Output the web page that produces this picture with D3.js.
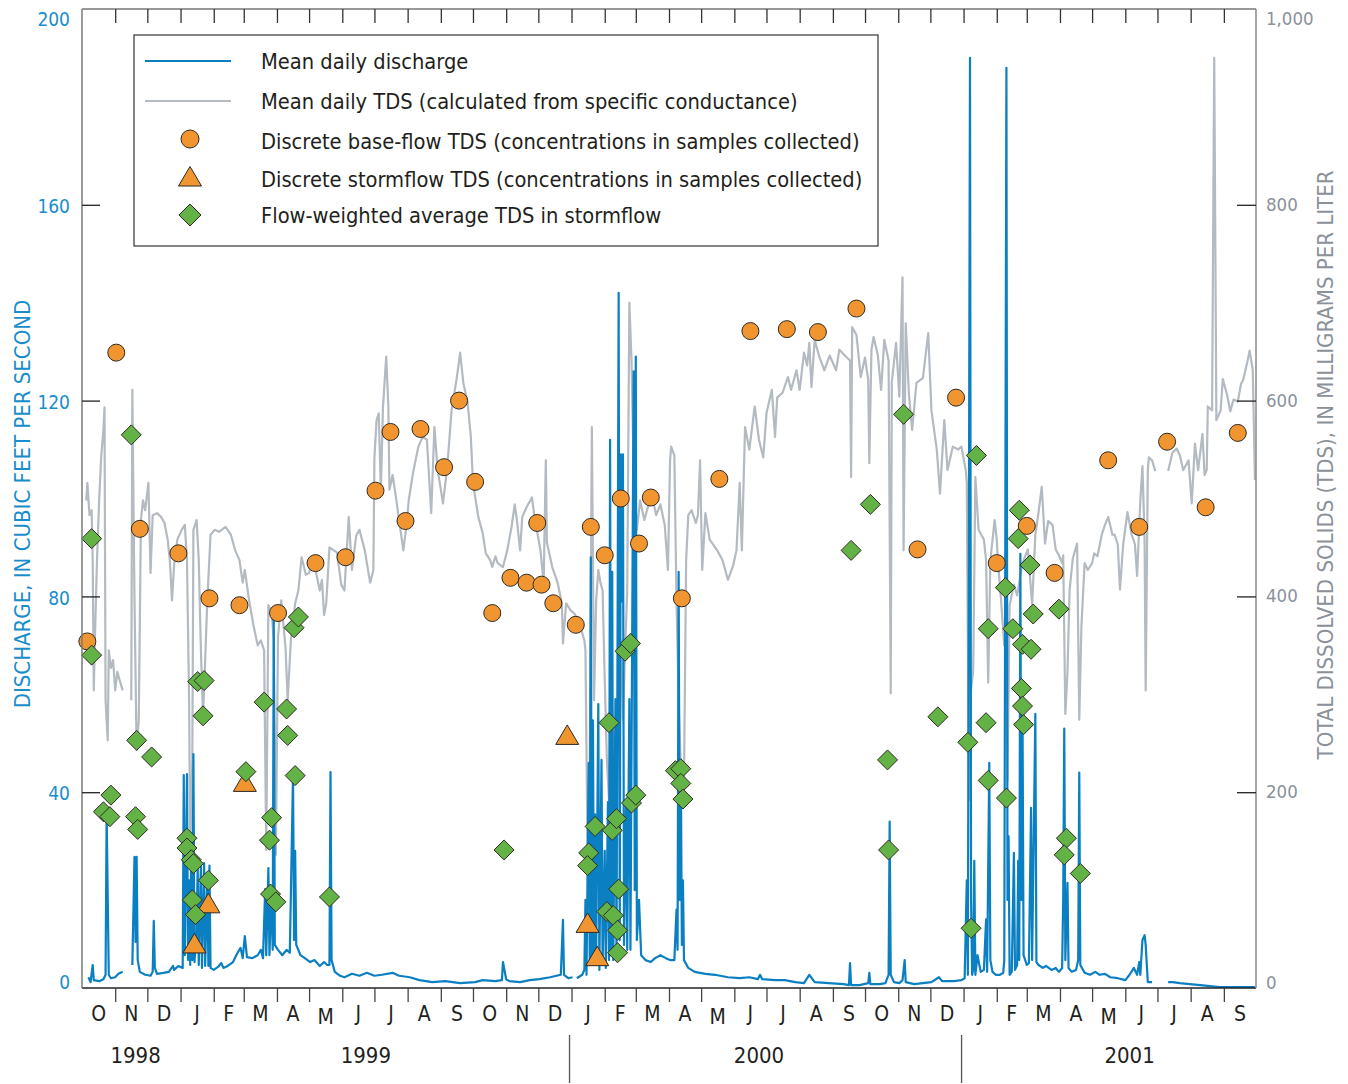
<!DOCTYPE html>
<html>
<head>
<meta charset="utf-8">
<script src="https://cdn.jsdelivr.net/npm/d3@7"></script>
<style>
  body { margin: 0; background: #fff; }
  svg text { font-family: "Liberation Sans Narrow", "DejaVu Sans Condensed", "Roboto Condensed", "Arial Narrow", sans-serif; }
</style>
</head>
<body>
<svg id="chart" width="1348" height="1084"></svg>
<script>
// ---- Data -------------------------------------------------------------

// Mean daily discharge, cubic feet per second (null = missing record)
const dischargeSeries = [
  ["1998-10-07",2.2],["1998-10-09",1.2],["1998-10-11",4.7],["1998-10-12",1.6],["1998-10-17",1.4],["1998-10-21",1.8],
  ["1998-10-23",2.7],["1998-10-24",35.5],["1998-10-26",2.7],["1998-10-28",2.0],["1998-11-01",2.2],["1998-11-04",2.9],
  ["1998-11-08",3.3],["1998-11-12",null],["1998-11-17",4.7],["1998-11-19",26.8],["1998-11-20",9.4],["1998-11-21",26.8],
  ["1998-11-22",5.7],["1998-11-24",3.3],["1998-11-29",2.7],["1998-12-04",2.5],["1998-12-06",3.3],["1998-12-07",13.7],
  ["1998-12-08",4.1],["1998-12-10",2.9],["1998-12-16",3.1],["1998-12-21",3.3],["1998-12-25",4.5],["1998-12-26",3.7],
  ["1998-12-30",4.5],["1999-01-03",4.1],["1999-01-04",43.5],["1999-01-05",6.7],["1999-01-07",43.7],["1999-01-08",5.7],
  ["1999-01-09",22],["1999-01-10",4.7],["1999-01-11",30],["1999-01-12",5.7],["1999-01-13",47.8],["1999-01-14",5.3],
  ["1999-01-16",11.8],["1999-01-17",25],["1999-01-18",4.7],["1999-01-20",25],["1999-01-21",4.1],["1999-01-23",25.5],
  ["1999-01-24",4.5],["1999-01-26",22],["1999-01-27",4.5],["1999-01-28",25],["1999-01-29",4.1],["1999-02-01",3.7],
  ["1999-02-05",4.3],["1999-02-08",5.1],["1999-02-10",4.1],["1999-02-14",4.5],["1999-02-19",5.3],["1999-02-22",6.7],
  ["1999-02-26",8.2],["1999-02-28",6.1],["1999-03-02",10.6],["1999-03-04",6.3],["1999-03-09",6.1],["1999-03-14",6.7],
  ["1999-03-17",7.8],["1999-03-19",6.1],["1999-03-21",20.2],["1999-03-22",6.7],["1999-03-24",24.5],["1999-03-25",6.7],
  ["1999-03-27",20],["1999-03-28",7.8],["1999-03-29",75.2],["1999-03-30",8.8],["1999-04-02",7.8],["1999-04-06",6.7],
  ["1999-04-10",7.8],["1999-04-13",7.2],["1999-04-16",43.5],["1999-04-17",9.8],["1999-04-18",28],["1999-04-19",8.8],
  ["1999-04-23",6.7],["1999-04-27",6.1],["1999-05-02",5.3],["1999-05-06",5.7],["1999-05-11",4.5],["1999-05-15",5.3],
  ["1999-05-18",4.7],["1999-05-20",4.7],["1999-05-21",44.1],["1999-05-22",5.7],["1999-05-25",3.3],["1999-05-30",2.5],
  ["1999-06-03",2.2],["1999-06-10",2.9],["1999-06-17",2.5],["1999-06-24",3.1],["1999-07-01",2.5],["1999-07-08",2.7],
  ["1999-07-18",3.1],["1999-07-24",2.5],["1999-08-03",2.2],["1999-08-12",1.6],["1999-08-24",1.2],["1999-09-05",1.4],
  ["1999-09-19",1.0],["1999-10-03",1.2],["1999-10-10",1.6],["1999-10-22",1.4],["1999-10-28",1.6],["1999-10-29",5.3],
  ["1999-11-01",1.8],["1999-11-04",1.4],["1999-11-14",1.2],["1999-11-23",1.6],["1999-12-02",1.8],["1999-12-12",2.2],
  ["1999-12-22",2.7],["1999-12-24",13.9],["1999-12-25",2.7],["1999-12-29",2.0],["2000-01-02",2.2],["2000-01-04",null],
  ["2000-01-06",2.0],["2000-01-11",2.7],["2000-01-13",3.7],["2000-01-14",18],["2000-01-15",2.7],["2000-01-17",46],
  ["2000-01-18",4.7],["2000-01-19",88],["2000-01-20",5.7],["2000-01-21",54.7],["2000-01-22",4.7],["2000-01-23",35.5],
  ["2000-01-24",5.7],["2000-01-26",58],["2000-01-27",3.7],["2000-01-29",46.6],["2000-01-30",4.7],["2000-02-01",28],
  ["2000-02-02",4.1],["2000-02-04",38],["2000-02-05",5.7],["2000-02-06",112],["2000-02-07",6.7],["2000-02-08",85],
  ["2000-02-09",5.7],["2000-02-11",59],["2000-02-12",6.7],["2000-02-14",142],["2000-02-15",9.8],["2000-02-16",109],
  ["2000-02-17",79],["2000-02-18",109],["2000-02-19",8.8],["2000-02-21",38],["2000-02-22",7.8],["2000-02-24",59],
  ["2000-02-25",7.8],["2000-02-28",126],["2000-02-29",20],["2000-03-01",129],["2000-03-02",9.8],["2000-03-04",18],
  ["2000-03-06",6.7],["2000-03-10",5.7],["2000-03-15",5.3],["2000-03-19",6.1],["2000-03-24",6.7],["2000-03-29",6.1],
  ["2000-04-02",5.7],["2000-04-06",5.7],["2000-04-08",16],["2000-04-09",7.8],["2000-04-10",85],["2000-04-11",18],
  ["2000-04-12",46.6],["2000-04-13",8.8],["2000-04-14",22],["2000-04-15",5.7],["2000-04-19",4.1],["2000-04-25",3.3],
  ["2000-05-05",2.9],["2000-05-14",2.7],["2000-05-26",2.2],["2000-06-06",2.0],["2000-06-15",2.2],["2000-06-23",1.8],
  ["2000-06-25",2.7],["2000-06-27",1.8],["2000-07-09",1.6],["2000-07-18",1.6],["2000-07-28",1.2],["2000-08-05",1.0],
  ["2000-08-10",2.7],["2000-08-15",1.2],["2000-08-28",1.0],["2000-09-11",0.8],["2000-09-16",0.6],["2000-09-17",5.1],
  ["2000-09-18",0.6],["2000-09-26",0.6],["2000-10-04",1.0],["2000-10-05",3.1],["2000-10-06",0.8],["2000-10-15",0.8],
  ["2000-10-20",1.0],["2000-10-23",2.7],["2000-10-24",34],["2000-10-25",2.7],["2000-10-28",1.2],["2000-11-02",1.0],
  ["2000-11-05",1.6],["2000-11-07",5.7],["2000-11-08",1.2],["2000-11-16",0.8],["2000-11-24",1.0],["2000-12-02",1.2],
  ["2000-12-09",2.2],["2000-12-12",1.4],["2000-12-23",1.4],["2000-12-30",1.6],["2001-01-02",2.0],["2001-01-04",22],
  ["2001-01-05",2.7],["2001-01-07",190],["2001-01-08",18],["2001-01-09",2.7],["2001-01-10",3.7],["2001-01-11",26],
  ["2001-01-12",2.7],["2001-01-14",6.7],["2001-01-17",3.3],["2001-01-20",3.7],["2001-01-22",14],["2001-01-23",3.3],
  ["2001-01-25",46],["2001-01-26",5.7],["2001-01-28",3.3],["2001-01-31",2.7],["2001-02-04",2.7],["2001-02-07",3.1],
  ["2001-02-08",5.7],["2001-02-10",188],["2001-02-11",18],["2001-02-12",31],["2001-02-13",2.7],["2001-02-15",3.3],
  ["2001-02-17",27.6],["2001-02-18",3.7],["2001-02-20",4.7],["2001-02-21",26],["2001-02-22",5.7],["2001-02-23",88.7],
  ["2001-02-24",18],["2001-02-25",57],["2001-02-26",6.7],["2001-03-01",4.7],["2001-03-03",5.1],["2001-03-05",36.8],
  ["2001-03-06",5.7],["2001-03-09",56],["2001-03-10",5.3],["2001-03-12",4.7],["2001-03-16",4.1],["2001-03-19",4.5],
  ["2001-03-24",3.7],["2001-03-28",4.1],["2001-03-31",3.3],["2001-04-03",4.1],["2001-04-04",18],["2001-04-05",53],
  ["2001-04-06",5.7],["2001-04-08",21.5],["2001-04-09",4.1],["2001-04-12",3.3],["2001-04-16",3.7],["2001-04-18",5.7],
  ["2001-04-19",44],["2001-04-20",4.7],["2001-04-24",3.1],["2001-04-29",2.7],["2001-05-04",3.3],["2001-05-08",2.7],
  ["2001-05-13",2.9],["2001-05-18",2.2],["2001-05-25",2.0],["2001-06-01",1.6],["2001-06-05",2.7],["2001-06-09",4.1],
  ["2001-06-12",2.7],["2001-06-14",5.3],["2001-06-15",2.7],["2001-06-17",9.8],["2001-06-19",10.8],["2001-06-20",8.8],
  ["2001-06-22",1.2],["2001-06-26",1.2],["2001-07-03",null],["2001-07-11",1.2],["2001-07-15",1.2],["2001-07-22",1.0],
  ["2001-07-31",0.8],["2001-08-10",0.6],["2001-08-19",0.4],["2001-08-28",0.2],["2001-09-11",0.2],["2001-09-30",0.2]
];

// Mean daily TDS from specific conductance, mg/L (null = missing record)
const tdsSeries = [
  ["1998-10-05",498],["1998-10-06",516],["1998-10-08",483],["1998-10-10",488],["1998-10-11",437],["1998-10-12",304],
  ["1998-10-13",355],["1998-10-15",437],["1998-10-17",498],["1998-10-19",544],["1998-10-21",570],["1998-10-22",593],
  ["1998-10-23",294],["1998-10-25",253],["1998-10-26",345],["1998-10-28",327],["1998-10-30",335],["1998-11-01",304],
  ["1998-11-03",323],["1998-11-05",315],["1998-11-08",304],["1998-11-12",null],["1998-11-16",294],["1998-11-17",611],
  ["1998-11-19",396],["1998-11-21",243],["1998-11-23",274],["1998-11-25",478],["1998-11-27",498],["1998-11-29",488],
  ["1998-12-02",516],["1998-12-04",424],["1998-12-06",483],["1998-12-10",485],["1998-12-14",481],["1998-12-17",475],
  ["1998-12-20",458],["1998-12-22",437],["1998-12-24",396],["1998-12-26",432],["1998-12-29",458],["1999-01-02",468],
  ["1999-01-05",473],["1999-01-07",437],["1999-01-09",294],["1999-01-10",141],["1999-01-12",233],["1999-01-13",468],
  ["1999-01-16",478],["1999-01-18",437],["1999-01-20",345],["1999-01-22",278],["1999-01-24",335],["1999-01-26",396],
  ["1999-01-29",463],["1999-02-02",468],["1999-02-06",466],["1999-02-12",471],["1999-02-17",463],["1999-02-21",447],
  ["1999-02-25",437],["1999-02-28",414],["1999-03-02",427],["1999-03-06",396],["1999-03-10",371],["1999-03-14",350],
  ["1999-03-17",355],["1999-03-20",345],["1999-03-22",141],["1999-03-24",391],["1999-03-27",385],["1999-03-29",355],
  ["1999-03-31",136],["1999-04-02",359],["1999-04-05",396],["1999-04-09",348],["1999-04-11",294],["1999-04-14",355],
  ["1999-04-18",393],["1999-04-21",406],["1999-04-24",440],["1999-04-28",422],["1999-05-01",424],["1999-05-04",437],
  ["1999-05-07",427],["1999-05-11",406],["1999-05-13",417],["1999-05-15",381],["1999-05-17",393],["1999-05-20",450],
  ["1999-05-24",447],["1999-05-27",445],["1999-05-31",412],["1999-06-03",406],["1999-06-07",481],["1999-06-10",427],
  ["1999-06-14",462],["1999-06-17",468],["1999-06-22",447],["1999-06-27",414],["1999-06-30",427],["1999-07-01",542],
  ["1999-07-03",580],["1999-07-05",587],["1999-07-07",509],["1999-07-09",594],["1999-07-12",645],["1999-07-14",594],
  ["1999-07-15",509],["1999-07-18",524],["1999-07-21",502],["1999-07-24",478],["1999-07-28",447],["1999-07-31",473],
  ["1999-08-02",498],["1999-08-06",526],["1999-08-11",553],["1999-08-15",563],["1999-08-19",560],["1999-08-23",485],
  ["1999-08-26",573],["1999-08-29",529],["1999-08-31",516],["1999-09-03",495],["1999-09-07",532],["1999-09-11",590],
  ["1999-09-16",624],["1999-09-19",649],["1999-09-22",618],["1999-09-26",598],["1999-09-29",563],["1999-10-01",516],
  ["1999-10-06",481],["1999-10-10",465],["1999-10-13",444],["1999-10-17",437],["1999-10-19",430],["1999-10-22",441],
  ["1999-10-24",434],["1999-10-29",430],["1999-11-02",447],["1999-11-06",471],["1999-11-09",494],["1999-11-11",478],
  ["1999-11-14",447],["1999-11-16",481],["1999-11-20",491],["1999-11-25",501],["1999-11-28",478],["1999-12-03",447],
  ["1999-12-06",414],["1999-12-08",539],["1999-12-09",455],["1999-12-14",430],["1999-12-19",414],["1999-12-23",393],
  ["1999-12-24",352],["1999-12-27",393],["1999-12-31",386],["2000-01-04",382],["2000-01-09",370],["2000-01-13",355],
  ["2000-01-14",345],["2000-01-16",131],["2000-01-18",233],["2000-01-20",573],["2000-01-22",294],["2000-01-24",396],
  ["2000-01-26",427],["2000-01-28",414],["2000-01-30",406],["2000-02-01",315],["2000-02-03",233],["2000-02-05",192],
  ["2000-02-07",304],["2000-02-09",253],["2000-02-11",172],["2000-02-13",233],["2000-02-15",315],["2000-02-16",355],
  ["2000-02-18",274],["2000-02-20",345],["2000-02-22",406],["2000-02-24",700],["2000-02-26",641],["2000-02-28",529],
  ["2000-03-02",468],["2000-03-05",498],["2000-03-09",478],["2000-03-13",494],["2000-03-16",504],["2000-03-20",483],
  ["2000-03-24",494],["2000-03-28",473],["2000-03-31",427],["2000-04-02",539],["2000-04-03",553],["2000-04-06",544],
  ["2000-04-08",396],["2000-04-10",294],["2000-04-13",192],["2000-04-15",212],["2000-04-17",437],["2000-04-19",483],
  ["2000-04-22",488],["2000-04-26",475],["2000-04-28",483],["2000-04-30",539],["2000-05-02",427],["2000-05-05",485],
  ["2000-05-09",458],["2000-05-16",447],["2000-05-21",437],["2000-05-26",417],["2000-05-31",432],["2000-06-03",447],
  ["2000-06-06",516],["2000-06-08",447],["2000-06-11",573],["2000-06-15",550],["2000-06-20",594],["2000-06-24",560],
  ["2000-06-28",542],["2000-07-01",587],["2000-07-06",611],["2000-07-09",563],["2000-07-11",603],["2000-07-16",608],
  ["2000-07-21",624],["2000-07-24",611],["2000-07-29",631],["2000-08-01",611],["2000-08-05",649],["2000-08-08",636],
  ["2000-08-10",659],["2000-08-12",614],["2000-08-15",662],["2000-08-19",646],["2000-08-24",631],["2000-08-29",646],
  ["2000-09-04",631],["2000-09-07",652],["2000-09-14",644],["2000-09-17",641],["2000-09-18",522],["2000-09-19",675],
  ["2000-09-23",667],["2000-09-27",624],["2000-10-01",644],["2000-10-04",621],["2000-10-05",536],["2000-10-07",652],
  ["2000-10-09",665],["2000-10-13",646],["2000-10-16",611],["2000-10-19",662],["2000-10-23",641],["2000-10-25",301],
  ["2000-10-26",619],["2000-10-30",659],["2000-11-02",604],["2000-11-05",726],["2000-11-06",447],["2000-11-08",679],
  ["2000-11-11",606],["2000-11-14",570],["2000-11-18",618],["2000-11-24",623],["2000-11-29",669],["2000-12-02",590],
  ["2000-12-07",550],["2000-12-10",505],["2000-12-14",580],["2000-12-17",529],["2000-12-22",553],["2000-12-27",550],
  ["2000-12-30",553],["2001-01-03",529],["2001-01-04",516],["2001-01-06",192],["2001-01-08",304],["2001-01-10",325],
  ["2001-01-12",522],["2001-01-15",468],["2001-01-20",458],["2001-01-22",437],["2001-01-24",312],["2001-01-26",437],
  ["2001-01-30",478],["2001-02-01",458],["2001-02-02",437],["2001-02-05",396],["2001-02-08",350],["2001-02-10",396],
  ["2001-02-11",212],["2001-02-13",391],["2001-02-17",412],["2001-02-20",401],["2001-02-25",434],["2001-03-02",448],
  ["2001-03-06",392],["2001-03-09",463],["2001-03-12",486],["2001-03-15",512],["2001-03-18",454],["2001-03-21",477],
  ["2001-03-25",473],["2001-03-28",448],["2001-03-31",442],["2001-04-03",434],["2001-04-04",442],["2001-04-06",280],
  ["2001-04-08",322],["2001-04-10",407],["2001-04-13",439],["2001-04-17",454],["2001-04-19",274],["2001-04-21",369],
  ["2001-04-24",434],["2001-04-27",427],["2001-05-01",434],["2001-05-03",444],["2001-05-06",441],["2001-05-10",463],
  ["2001-05-13",473],["2001-05-16",481],["2001-05-20",463],["2001-05-22",463],["2001-05-25",453],["2001-05-27",407],
  ["2001-05-30",453],["2001-06-03",486],["2001-06-07",463],["2001-06-10",453],["2001-06-12",421],["2001-06-15",498],
  ["2001-06-17",533],["2001-06-19",457],["2001-06-20",304],["2001-06-22",529],["2001-06-23",542],["2001-06-26",539],
  ["2001-06-29",528],["2001-07-05",null],["2001-07-11",528],["2001-07-15",547],["2001-07-19",551],["2001-07-22",544],
  ["2001-07-25",529],["2001-07-30",539],["2001-08-02",495],["2001-08-05",556],["2001-08-08",529],["2001-08-12",566],
  ["2001-08-14",524],["2001-08-16",529],["2001-08-17",594],["2001-08-21",590],["2001-08-23",950],["2001-08-25",580],
  ["2001-08-29",590],["2001-08-31",622],["2001-09-04",606],["2001-09-07",589],["2001-09-10",601],["2001-09-14",599],
  ["2001-09-17",617],["2001-09-19",621],["2001-09-23",640],["2001-09-25",651],["2001-09-28",631],["2001-09-30",519]
];

// Discrete base-flow samples, TDS mg/L
const baseflowSamples = [
  ["1998-10-06",354],["1998-11-02",649],["1998-11-24",469],["1998-12-30",444],["1999-01-28",398],["1999-02-25",391],
  ["1999-04-02",383],["1999-05-07",434],["1999-06-04",440],["1999-07-02",508],["1999-07-16",568],["1999-07-30",477],
  ["1999-08-13",571],["1999-09-04",532],["1999-09-18",600],["1999-10-03",517],["1999-10-19",383],["1999-11-05",419],
  ["1999-11-20",414],["1999-11-30",475],["1999-12-04",412],["1999-12-15",393],["2000-01-05",371],["2000-01-19",471],
  ["2000-02-01",442],["2000-02-16",500],["2000-03-04",454],["2000-03-15",501],["2000-04-13",398],["2000-05-18",520],
  ["2000-06-16",671],["2000-07-20",673],["2000-08-18",670],["2000-09-23",694],["2000-11-19",448],["2000-12-25",603],
  ["2001-02-01",434],["2001-03-01",472],["2001-03-27",424],["2001-05-16",539],["2001-06-14",471],["2001-07-10",558],
  ["2001-08-15",491],["2001-09-14",567]
];

// Discrete stormflow samples, TDS mg/L
const stormSamples = [
  ["1999-01-14",45],["1999-01-27",86],["1999-03-02",210],["1999-12-28",258],["2000-01-16",66],["2000-01-25",32]
];

// Flow-weighted average TDS in stormflow, mg/L
const flowWeighted = [
  ["1998-10-10",459],["1998-10-10",340],["1998-10-21",180],["1998-10-27",175],["1998-10-28",197],["1998-11-16",565],
  ["1998-11-20",175],["1998-11-22",162],["1998-11-21",253],["1998-12-05",236],["1999-01-07",153],["1999-01-07",143],
  ["1999-01-11",131],["1999-01-13",127],["1999-01-12",90],["1999-01-15",75],["1999-01-27",110],["1999-01-17",313],
  ["1999-01-23",314],["1999-01-22",278],["1999-03-03",221],["1999-03-20",292],["1999-03-27",174],["1999-03-25",151],
  ["1999-03-26",96],["1999-03-31",88],["1999-04-10",285],["1999-04-11",258],["1999-04-18",217],["1999-04-17",368],
  ["1999-04-21",379],["1999-05-20",93],["1999-10-30",141],["2000-01-23",165],["2000-01-17",138],["2000-01-16",125],
  ["2000-02-05",271],["2000-02-08",161],["2000-02-12",173],["2000-02-14",101],["2000-02-03",78],["2000-02-09",74],
  ["2000-02-13",59],["2000-02-13",36],["2000-02-20",344],["2000-02-25",352],["2000-02-26",189],["2000-03-01",197],
  ["2000-04-07",222],["2000-04-12",224],["2000-04-12",209],["2000-04-14",193],["2000-09-18",447],["2000-10-06",494],
  ["2000-11-06",586],["2000-10-22",233],["2000-10-23",141],["2000-12-08",277],["2001-01-05",251],["2001-01-08",61],
  ["2001-01-13",544],["2001-01-22",271],["2001-01-24",212],["2001-01-24",367],["2001-02-10",194],["2001-02-09",409],
  ["2001-02-16",367],["2001-02-22",488],["2001-02-21",459],["2001-03-04",432],["2001-03-07",382],["2001-02-25",351],
  ["2001-03-05",346],["2001-02-24",306],["2001-02-25",288],["2001-02-26",269],["2001-03-31",387],["2001-04-07",153],
  ["2001-04-05",136],["2001-04-20",117]
];

// Axis ticks and labels
const dischargeTicks = [0, 40, 80, 120, 160, 200];
const tdsTicks = [0, 200, 400, 600, 800, 1000];
const yearLabels = ["1998", "1999", "2000", "2001"];
const yearLabelDates = ["1998-11-20", "1999-06-23", "2000-06-24", "2001-06-05"];
const legendLabels = [
  "Mean daily discharge",
  "Mean daily TDS (calculated from specific conductance)",
  "Discrete base-flow TDS (concentrations in samples collected)",
  "Discrete stormflow TDS (concentrations in samples collected)",
  "Flow-weighted average TDS in stormflow"
];

// ---- Drawing ------------------------------------------------------------

const parse = d3.utcParse("%Y-%m-%d");
const C = {
  blue: "#0a7fc2", blueText: "#1a8dcc", gray: "#b3bac2", grayText: "#8b9199",
  orange: "#f0952f", green: "#62b246", stroke: "#2f2a25", ink: "#231f20"
};

const svg = d3.select("#chart");
const L = 82, R = 1256, T = 9, B = 988;
const start = parse("1998-10-01"), end = parse("2001-10-01");

const x = d3.scaleUtc().domain([start, end]).range([L, R]);
const yQ = d3.scaleLinear().domain([0, 200]).range([B, T]);
const yT = d3.scaleLinear().domain([0, 1000]).range([B, T]);

// Lines
const lineOf = (yScale) => d3.line()
  .defined(d => d[1] !== null)
  .x(d => x(parse(d[0])))
  .y(d => yScale(d[1]));

svg.append("path").datum(tdsSeries)
  .attr("d", lineOf(yT)).attr("fill", "none")
  .attr("stroke", C.gray).attr("stroke-width", 2.2).attr("stroke-linejoin", "round");

svg.append("path").datum(dischargeSeries)
  .attr("d", lineOf(yQ)).attr("fill", "none")
  .attr("stroke", C.blue).attr("stroke-width", 2.2).attr("stroke-linejoin", "round");

// Symbols
const diamond = (s) => `M0,${-s}L${s},0L0,${s}L${-s},0Z`;
const triangle = `M0,-10.5L11.5,9L-11.5,9Z`;

svg.append("g").selectAll("circle").data(baseflowSamples).join("circle")
  .attr("cx", d => x(parse(d[0]))).attr("cy", d => yT(d[1])).attr("r", 8.5)
  .attr("fill", C.orange).attr("stroke", C.stroke).attr("stroke-width", 1);

svg.append("g").selectAll("path").data(stormSamples).join("path")
  .attr("transform", d => `translate(${x(parse(d[0]))},${yT(d[1])})`)
  .attr("d", triangle)
  .attr("fill", C.orange).attr("stroke", C.stroke).attr("stroke-width", 1);

svg.append("g").selectAll("path").data(flowWeighted).join("path")
  .attr("transform", d => `translate(${x(parse(d[0]))},${yT(d[1])})`)
  .attr("d", diamond(10))
  .attr("fill", C.green).attr("stroke", C.stroke).attr("stroke-width", 1);

// Frame
svg.append("line").attr("x1", L).attr("x2", R).attr("y1", T).attr("y2", T).attr("stroke", "#333").attr("stroke-width", 1.2);
svg.append("line").attr("x1", L).attr("x2", R).attr("y1", B).attr("y2", B).attr("stroke", "#222").attr("stroke-width", 1.5);
svg.append("line").attr("x1", L).attr("x2", L).attr("y1", T).attr("y2", B).attr("stroke", "#7a7a7a").attr("stroke-width", 1.5);
svg.append("line").attr("x1", R).attr("x2", R).attr("y1", T).attr("y2", B).attr("stroke", "#8a8a8a").attr("stroke-width", 1.5);

// Month ticks (top inward, bottom outward)
const months = d3.utcMonths(start, end);
const inner = months.slice(1);
const topAxis = d3.axisTop(x).tickValues(inner).tickSizeInner(-14).tickSizeOuter(0).tickFormat("");
const botAxis = d3.axisBottom(x).tickValues(inner).tickSizeInner(14).tickSizeOuter(0).tickFormat("");
svg.append("g").attr("transform", `translate(0,${T})`).call(topAxis)
  .call(g => g.select(".domain").remove())
  .selectAll("line").attr("stroke", "#333").attr("stroke-width", 1.3);
svg.append("g").attr("transform", `translate(0,${B})`).call(botAxis)
  .call(g => g.select(".domain").remove())
  .selectAll("line").attr("stroke", "#444").attr("stroke-width", 1.3);

// Month letters
const monthFmt = d3.utcFormat("%b");
svg.append("g").selectAll("text").data(months).join("text")
  .attr("x", d => (x(d) + x(d3.utcMonth.offset(d, 1))) / 2)
  .attr("y", d => d.getUTCMonth() === 4 ? 1024 : 1021)
  .attr("text-anchor", "middle")
  .attr("font-size", 21).attr("fill", C.ink)
  .text(d => monthFmt(d)[0]);

// Year labels and separators
svg.append("g").selectAll("text").data(yearLabels).join("text")
  .attr("x", (d, i) => x(parse(yearLabelDates[i])))
  .attr("y", 1063).attr("text-anchor", "middle")
  .attr("font-size", 22).attr("fill", C.ink)
  .text(d => d);
svg.append("g").selectAll("line").data(d3.utcYears(start, end).slice(1)).join("line")
  .attr("x1", d => x(d) - 2).attr("x2", d => x(d) - 2)
  .attr("y1", 1035).attr("y2", 1083)
  .attr("stroke", "#555").attr("stroke-width", 1.3);

// Left axis (discharge)
const leftAxis = d3.axisLeft(yQ).tickValues(dischargeTicks).tickSizeInner(-18).tickSizeOuter(0).tickPadding(12);
svg.append("g").attr("transform", `translate(${L},0)`).call(leftAxis)
  .call(g => g.select(".domain").remove())
  .call(g => g.selectAll(".tick line").attr("stroke", "#222").attr("stroke-width", 1.3)
              .attr("display", d => (d === 0 || d === 200) ? "none" : null))
  .call(g => g.selectAll(".tick text")
              .attr("fill", C.blueText).attr("font-size", 19)
              .attr("font-family", null)
              .attr("dy", d => d === 200 ? "0.85em" : d === 0 ? "0.05em" : "0.4em"));

// Right axis (TDS)
const rightAxis = d3.axisRight(yT).tickValues(tdsTicks).tickSizeInner(-19).tickSizeOuter(0).tickPadding(10)
  .tickFormat(d3.format(","));
svg.append("g").attr("transform", `translate(${R},0)`).call(rightAxis)
  .call(g => g.select(".domain").remove())
  .call(g => g.selectAll(".tick line").attr("stroke", "#222").attr("stroke-width", 1.3)
              .attr("display", d => (d === 0 || d === 1000) ? "none" : null))
  .call(g => g.selectAll(".tick text")
              .attr("fill", C.grayText).attr("font-size", 18.5)
              .attr("font-family", null)
              .attr("dy", d => d === 1000 ? "0.85em" : d === 0 ? "0.05em" : "0.3em"));

// Axis titles
svg.append("text")
  .attr("transform", `translate(30,${(300 + 708) / 2}) rotate(-90)`)
  .attr("text-anchor", "middle").attr("font-size", 22).attr("fill", C.blueText)
  .text("DISCHARGE, IN CUBIC FEET PER SECOND");
svg.append("text")
  .attr("transform", `translate(1333,${(168 + 762) / 2}) rotate(-90)`)
  .attr("text-anchor", "middle").attr("font-size", 22).attr("fill", C.grayText)
  .text("TOTAL DISSOLVED SOLIDS (TDS), IN MILLIGRAMS PER LITER");

// Legend
const lg = svg.append("g");
lg.append("rect").attr("x", 134).attr("y", 35).attr("width", 744).attr("height", 211)
  .attr("fill", "#fff").attr("stroke", "#333").attr("stroke-width", 1.2);
const rowY = [61, 101, 139, 177, 215];
lg.append("line").attr("x1", 145).attr("x2", 231).attr("y1", rowY[0]).attr("y2", rowY[0])
  .attr("stroke", C.blue).attr("stroke-width", 2.2);
lg.append("line").attr("x1", 145).attr("x2", 231).attr("y1", rowY[1]).attr("y2", rowY[1])
  .attr("stroke", C.gray).attr("stroke-width", 2.2);
lg.append("circle").attr("cx", 190).attr("cy", rowY[2]).attr("r", 9)
  .attr("fill", C.orange).attr("stroke", C.stroke);
lg.append("path").attr("transform", `translate(190,${rowY[3]})`).attr("d", triangle)
  .attr("fill", C.orange).attr("stroke", C.stroke);
lg.append("path").attr("transform", `translate(190,${rowY[4]})`).attr("d", diamond(11))
  .attr("fill", C.green).attr("stroke", C.stroke);
lg.selectAll("text.lab").data(legendLabels).join("text").attr("class", "lab")
  .attr("x", 261).attr("y", (d, i) => [61, 101, 141, 179, 215][i] + 8)
  .attr("font-size", 21.7).attr("fill", C.ink)
  .text(d => d);
</script>
</body>
</html>
